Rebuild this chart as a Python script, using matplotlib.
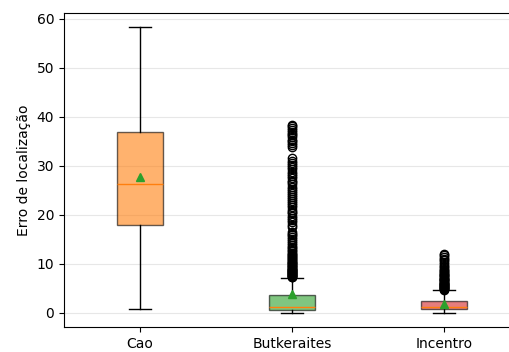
import matplotlib
matplotlib.use("Agg")
import matplotlib.pyplot as plt

labels = ["Cao", "Butkeraites", "Incentro"]
whislo = [0.7, 0.0, 0.0]
q1 = [18.0, 0.6, 0.8]
medians = [26.3, 1.2, 1.1]
means = [27.7, 3.9, 1.8]
q3 = [36.9, 3.6, 2.4]
whishi = [58.3, 7.1, 4.6]

fliers_cao = []
fliers_butkeraites = [
    7.3, 7.4, 7.5, 7.6, 7.7, 7.8, 7.9, 8.0, 8.1, 8.2, 8.3, 8.4, 8.5, 8.6,
    8.7, 8.8, 8.9, 9.0, 9.2, 9.3, 9.5, 9.6, 9.8, 9.9, 10.1, 10.2, 10.4,
    10.5, 10.7, 10.9, 11.1, 11.3, 11.5, 11.8, 12.0, 12.3, 12.6, 12.9, 13.2,
    13.5, 13.9, 14.2, 14.6, 15.0, 15.4, 15.8, 16.1, 16.4, 17.6, 18.0, 18.5,
    18.9, 19.4, 19.8, 20.3, 20.6, 21.0, 21.5, 22.0, 22.4, 22.8, 23.2, 23.6,
    24.1, 24.5, 24.9, 25.3, 25.7, 26.2, 26.6, 27.0, 27.5, 28.0, 28.4, 28.8,
    29.3, 29.8, 30.2, 30.6, 31.0, 31.5, 33.8, 34.2, 34.6, 35.0, 35.3, 35.8,
    36.2, 36.6, 37.0, 37.4, 37.7, 38.1, 38.4,
]
fliers_incentro = [
    4.7, 4.8, 4.9, 5.0, 5.1, 5.2, 5.3, 5.4, 5.5, 5.6, 5.7, 5.8, 5.9, 6.0,
    6.1, 6.3, 6.4, 6.6, 6.7, 6.9, 7.0, 7.2, 7.4, 7.5, 7.7, 7.8, 8.0, 8.1,
    8.3, 8.5, 8.8, 9.0, 9.3, 9.5, 10.0, 10.3, 10.8, 11.0, 11.3, 11.7, 12.1,
]
fliers = [fliers_cao, fliers_butkeraites, fliers_incentro]

box_colors = ["#ff7f0e", "#2ca02c", "#d62728"]

stats = []
for i, label in enumerate(labels):
    stats.append({
        "label": label,
        "whislo": whislo[i],
        "q1": q1[i],
        "med": medians[i],
        "mean": means[i],
        "q3": q3[i],
        "whishi": whishi[i],
        "fliers": fliers[i],
    })

fig = plt.figure(figsize=(5.1, 3.52), dpi=100)
ax = fig.add_axes([64 / 510, 25 / 352, 456 / 510, 314 / 352])

bp = ax.bxp(stats, showmeans=True, patch_artist=True, widths=0.3)
for patch, color in zip(bp["boxes"], box_colors):
    patch.set_facecolor(color)
    patch.set_alpha(0.6)

ax.set_xlim(0.5, 3.5)
ax.set_ylim(-2.9, 61.2)
ax.set_ylabel("Erro de localização")
ax.grid(True, axis="y", alpha=0.3)
ax.set_axisbelow(True)

plt.savefig("out.png", dpi=100)
plt.close()
